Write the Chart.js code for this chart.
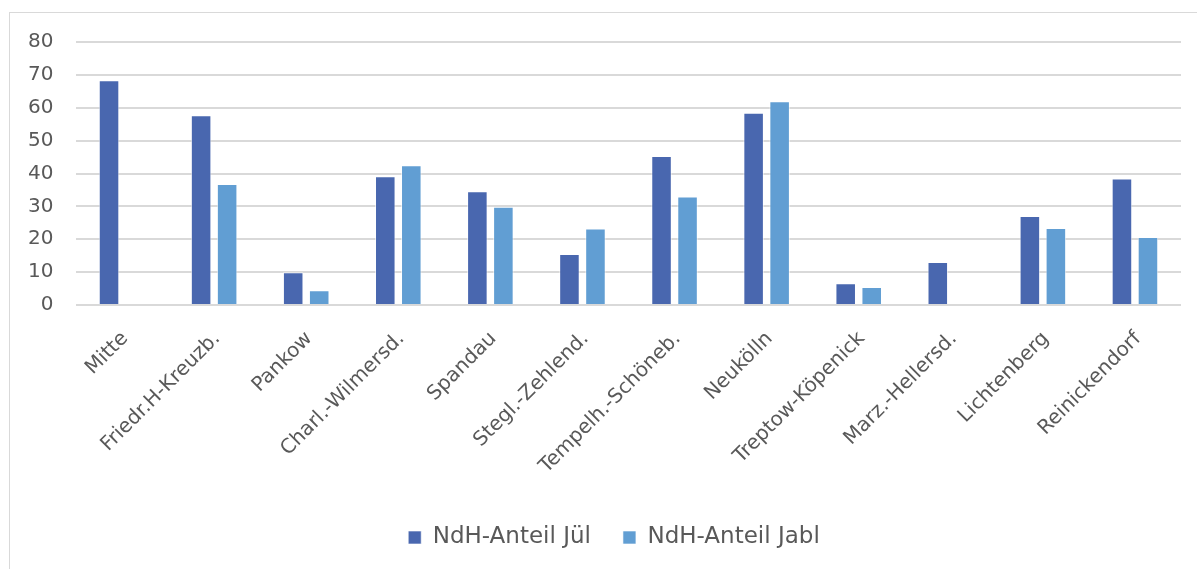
<!DOCTYPE html>
<html>
<head>
<meta charset="utf-8">
<script src="https://cdn.jsdelivr.net/npm/chart.js@4/dist/chart.umd.min.js"></script>
<style>
  html, body { margin: 0; padding: 0; background: #ffffff; overflow: hidden; }
  #frame { position: absolute; left: 9px; top: 12px; width: 1200px; height: 570px; border: 1px solid #d9d9d9; box-sizing: border-box; }
  #wrap { position: absolute; left: 0; top: 0; width: 1197px; height: 569px; }
</style>
</head>
<body>
<div id="frame"></div>
<div id="wrap"><canvas id="c" width="1197" height="569"></canvas></div>
<script>
// Berlin districts
const categories = [
  'Mitte', 'Friedr.H-Kreuzb.', 'Pankow', 'Charl.-Wilmersd.', 'Spandau',
  'Stegl.-Zehlend.', 'Tempelh.-Schöneb.', 'Neukölln', 'Treptow-Köpenick',
  'Marz.-Hellersd.', 'Lichtenberg', 'Reinickendorf'
];
// NdH share per district (percent)
const anteilJuel = [68.4, 57.7, 10.0, 39.2, 34.6, 15.5, 45.3, 58.5, 6.6, 13.1, 27.1, 38.5];
const anteilJabl = [null, 36.8, 4.5, 42.5, 29.9, 23.3, 33.0, 62.0, 5.5, null, 23.4, 20.7];
const seriesNames = ['NdH-Anteil Jül', 'NdH-Anteil Jabl'];
const yTicks = [0, 10, 20, 30, 40, 50, 60, 70, 80];

const FONT = "'DejaVu Sans', sans-serif";
const TEXT = '#595959';

new Chart(document.getElementById('c'), {
  type: 'bar',
  data: {
    labels: categories,
    datasets: [
      { label: seriesNames[0], data: anteilJuel, backgroundColor: '#4967AF',
        borderColor: 'rgba(255,255,255,0.6)', borderWidth: 1 },
      { label: seriesNames[1], data: anteilJabl, backgroundColor: '#619ED3',
        borderColor: 'rgba(255,255,255,0.6)', borderWidth: 1 }
    ]
  },
  options: {
    responsive: false,
    animation: false,
    datasets: { bar: { categoryPercentage: 0.565, barPercentage: 0.79 } },
    layout: { padding: { left: 47, right: 16, top: 42, bottom: 10 } },
    plugins: {
      legend: {
        position: 'bottom',
        labels: {
          font: { family: FONT, size: 23 }, color: TEXT,
          boxWidth: 13, boxHeight: 13, padding: 32, useBorderRadius: false
        }
      },
      tooltip: { enabled: false }
    },
    scales: {
      x: {
        grid: { display: false },
        border: { display: false },
        ticks: {
          font: { family: FONT, size: 20 }, color: TEXT,
          minRotation: 45, maxRotation: 45, padding: 14, labelOffset: 3, autoSkip: false
        },
        afterFit(s) { s.height = 189; }
      },
      y: {
        min: 0, max: 80,
        afterBuildTicks(s) { s.ticks = yTicks.map(v => ({ value: v })); },
        grid: { color: '#d9d9d9', lineWidth: 2, drawTicks: false },
        border: { display: false },
        // right-aligned labels placed left of the plot, unclipped
        ticks: { font: { family: FONT, size: 20 }, color: TEXT,
                 mirror: true, crossAlign: 'far', padding: -48 },
        afterFit(s) { s.width = 29; }
      }
    }
  }
});
</script>
</body>
</html>
